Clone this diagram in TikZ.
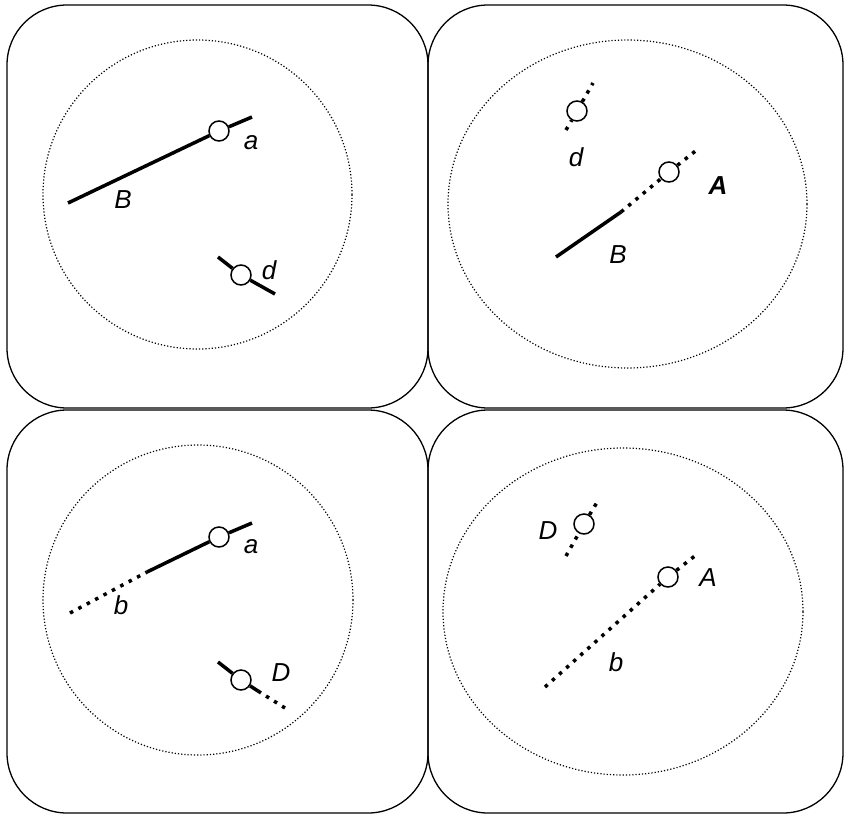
\documentclass[tikz,border=0pt]{standalone}
\usepackage{fontspec}
\setmainfont{Liberation Sans}
\usetikzlibrary{positioning}

\begin{document}
\begin{tikzpicture}[
			x=1pt, y=-1pt,
			panel/.style={draw, line width=1.3pt, rounded corners=60pt},
			field/.style={draw, line width=1.2pt, dash pattern=on 1.2pt off 2pt},
			ring/.style={circle, draw, fill=white, line width=1.5pt, inner sep=0pt, minimum size=20pt},
			solidseg/.style={line width=3.5pt},
			dotseg/.style={line width=3.5pt, dash pattern=on 3.5pt off 6pt},
			lbl/.style={font=\itshape\fontsize{26}{26}\selectfont, inner sep=0pt}
			]
			\useasboundingbox (0,0) rectangle (844,815);
			% four panels
			\draw[panel] (7,5) rectangle (428,408);
			\draw[panel] (428,5) rectangle (843,408);
			\draw[panel] (7,410) rectangle (428,813);
			\draw[panel] (428,410) rectangle (843,813);
			\draw[field] (197.5,194.5) ellipse [x radius=154.5pt, y radius=154.5pt];
			\draw[field] (627.5,204) ellipse [x radius=179.5pt, y radius=164pt];
			\draw[field] (198,600) ellipse [x radius=155pt, y radius=155pt];
			\draw[field] (623,611.5) ellipse [x radius=180pt, y radius=163.5pt];

			% top left
			\coordinate (tlB0) at (68,203);
			\node[ring] (tla) at (219,131) {};
			\coordinate (tla1) at (252,117);
			\draw[solidseg] (tlB0) -- (tla);
			\draw[solidseg] (tla) -- (tla1);
			\node[lbl] (tlaL) at (251,143) {a};
			\node[lbl] (tlBL) at (123,200) {B};
			\coordinate (tld0) at (218,257);
			\node[ring] (tld) at (241,275) {};
			\coordinate (tld1) at (275,294);
			\draw[solidseg] (tld0) -- (tld);
			\draw[solidseg] (tld) -- (tld1);
			\node[lbl] (tldL) at (269,270) {d};

			% top right
			\coordinate (trd0) at (566,130);
			\node[ring] (trd) at (577,111) {};
			\coordinate (trd1) at (593,83);
			\draw[dotseg] (trd0) -- (trd);
			\draw[dotseg] (trd) -- (trd1);
			\node[lbl] (trdL) at (576,157) {d};
			\coordinate (trB0) at (556,257);
			\coordinate (trB1) at (621,212);
			\node[ring] (trA) at (669,172) {};
			\coordinate (trA1) at (698,149);
			\draw[solidseg] (trB0) -- (trB1);
			\draw[dotseg] (trB1) -- (trA);
			\draw[dotseg] (trA) -- (trA1);
			\node[lbl, font=\bfseries\itshape\fontsize{26}{26}\selectfont] (trAL) at (718,186) {A};
			\node[lbl] (trBL) at (618,255) {B};

			% bottom left
			\coordinate (blb0) at (70,613);
			\coordinate (blb1) at (147,572);
			\node[ring] (bla) at (219,537) {};
			\coordinate (bla1) at (252,523);
			\draw[dotseg] (blb0) -- (blb1);
			\draw[solidseg] (blb1) -- (bla);
			\draw[solidseg] (bla) -- (bla1);
			\node[lbl] (blaL) at (251,547) {a};
			\node[lbl] (blbL) at (121,605) {b};
			\coordinate (blD0) at (218,662);
			\node[ring] (blD) at (241,680) {};
			\coordinate (blD1) at (258,691);
			\coordinate (blD2) at (285,708);
			\draw[solidseg] (blD0) -- (blD);
			\draw[solidseg] (blD) -- (blD1);
			\draw[dotseg] (blD1) -- (blD2);
			\node[lbl] (blDL) at (281,673) {D};

			% bottom right
			\coordinate (brD0) at (566,556);
			\node[ring] (brD) at (584,524) {};
			\coordinate (brD1) at (599,499);
			\draw[dotseg] (brD0) -- (brD);
			\draw[dotseg] (brD) -- (brD1);
			\node[lbl] (brDL) at (548,531) {D};
			\coordinate (brb0) at (545,687);
			\node[ring] (brA) at (668,577) {};
			\coordinate (brA1) at (696,555);
			\draw[dotseg] (brb0) -- (brA);
			\draw[dotseg] (brA) -- (brA1);
			\node[lbl] (brAL) at (708,578) {A};
			\node[lbl] (brbL) at (616,662) {b};
		\end{tikzpicture}
\end{document}
